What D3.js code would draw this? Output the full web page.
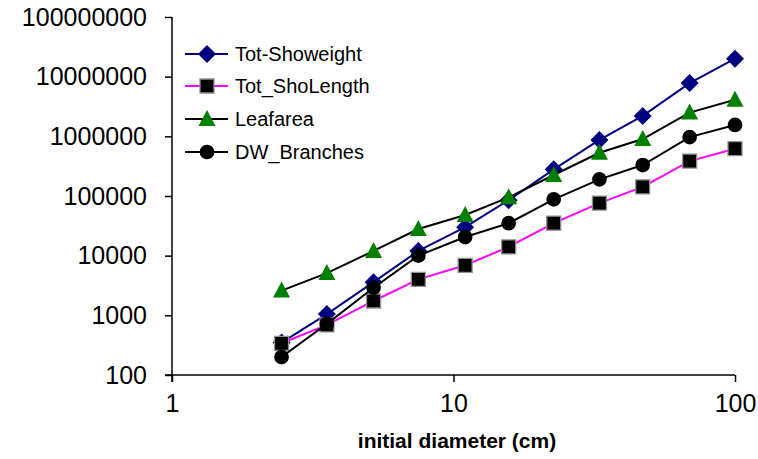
<!DOCTYPE html>
<html>
<head>
<meta charset="utf-8">
<script src="https://cdn.jsdelivr.net/npm/d3@7"></script>
<style>
  body { margin: 0; background: #fff; }
  text { font-family: "Liberation Sans", Arial, sans-serif; }
</style>
</head>
<body>
<div id="chart"></div>
<script>
// data
var diameters = [2.45, 3.55, 5.2, 7.5, 11, 15.7, 22.7, 33, 47, 69, 100];
var totShoweight = [350, 1050, 3600, 12000, 30000, 85000, 280000, 870000, 2200000, 7800000, 20000000];
var totShoLength = [340, 690, 1740, 4000, 6900, 14000, 35000, 76000, 142000, 385000, 620000];
var leafarea = [2600, 5100, 12000, 28000, 48000, 95000, 225000, 530000, 900000, 2500000, 4100000];
var dwBranches = [200, 720, 2900, 10000, 20500, 35000, 88000, 190000, 330000, 970000, 1550000];
var xTicks = [1, 10, 100];
var yTicks = [100, 1000, 10000, 100000, 1000000, 10000000, 100000000];

var seriesNames = ["Tot-Showeight", "Tot_ShoLength", "Leafarea", "DW_Branches"];
var seriesValues = [totShoweight, totShoLength, leafarea, dwBranches];
var lineColors = ["#000080", "#ff00ff", "#000000", "#000000"];
var markerFill = ["#000080", "#000000", "#008000", "#000000"];
var markerType = ["diamond", "square", "triangle", "circle"];

var chart_w = 758, chart_h = 459;
var plotLeft = 172, plotRight = 735, plotTop = 17, plotBottom = 375;

var svg = d3.select("#chart").append("svg")
    .attr("width", chart_w)
    .attr("height", chart_h);

var x = d3.scaleLog().domain([1, 100]).range([plotLeft, plotRight]);
var y = d3.scaleLog().domain([100, 100000000]).range([plotBottom, plotTop]);

////////////////////////////////////////////////
// axes

var xAxis = svg.append("g")
    .attr("transform", "translate(0," + plotBottom + ")")
    .call(d3.axisBottom(x).tickValues(xTicks).tickFormat(d3.format("d")).tickSize(7).tickPadding(12).tickSizeOuter(0));
var yAxis = svg.append("g")
    .attr("transform", "translate(" + plotLeft + ",0)")
    .call(d3.axisLeft(y).tickValues(yTicks).tickFormat(d3.format("d")).tickSize(7).tickPadding(18).tickSizeOuter(0));

[xAxis, yAxis].forEach(function(a){
    a.select(".domain").attr("stroke", "#000").attr("stroke-width", 1.5);
    a.selectAll(".tick line").attr("stroke", "#000").attr("stroke-width", 1.5);
    a.selectAll(".tick text")
        .attr("fill", "#000")
        .attr("font-size", "25px")
        .attr("font-family", "'Liberation Sans', Arial, sans-serif");
});
// x axis line reaches over the 100 tick on the left
xAxis.select(".domain").attr("d", "M" + (plotLeft - 7) + ",0H" + plotRight);
yAxis.select(".domain").attr("d", "M0," + plotTop + "V" + (plotBottom + 7));

svg.append("text")
    .attr("x", 457)
    .attr("y", 448)
    .attr("text-anchor", "middle")
    .attr("font-size", "21px")
    .attr("font-weight", "bold")
    .text("initial diameter (cm)");

////////////////////////////////////////////////
// series

function markerPath(type){
    if(type === "diamond") return "M0,-9L9,0L0,9L-9,0Z";
    if(type === "square") return "M-7,-7H7V7H-7Z";
    if(type === "triangle") return "M0,-9L8.5,7H-8.5Z";
    return d3.symbol().type(d3.symbolCircle).size(170)();
}

function drawMarker(g, type, fill, cx, cy){
    var p = g.append("path")
        .attr("d", markerPath(type))
        .attr("transform", "translate(" + cx + "," + cy + ")")
        .attr("fill", fill);
    if(type === "square"){
        p.attr("stroke", "#909090").attr("stroke-width", 1.3);
    }
}

var line = d3.line()
    .x(function(d){ return x(d[0]); })
    .y(function(d){ return y(d[1]); });

seriesValues.forEach(function(vals, s){
    var pts = diameters.map(function(d, i){ return [d, vals[i]]; });
    var g = svg.append("g");
    g.append("path")
        .datum(pts)
        .attr("d", line)
        .attr("fill", "none")
        .attr("stroke", lineColors[s])
        .attr("stroke-width", 2);
    pts.forEach(function(p){
        drawMarker(g, markerType[s], markerFill[s], x(p[0]), y(p[1]));
    });
});

////////////////////////////////////////////////
// legend

var legendY = [54, 86, 119, 152];
seriesNames.forEach(function(name, s){
    var g = svg.append("g");
    g.append("line")
        .attr("x1", 185).attr("x2", 228)
        .attr("y1", legendY[s]).attr("y2", legendY[s])
        .attr("stroke", lineColors[s])
        .attr("stroke-width", 2);
    drawMarker(g, markerType[s], markerFill[s], 207, legendY[s]);
    g.append("text")
        .attr("x", 235)
        .attr("y", legendY[s] + 7)
        .attr("font-size", "20px")
        .attr("fill", "#000")
        .text(name);
});
</script>
</body>
</html>
